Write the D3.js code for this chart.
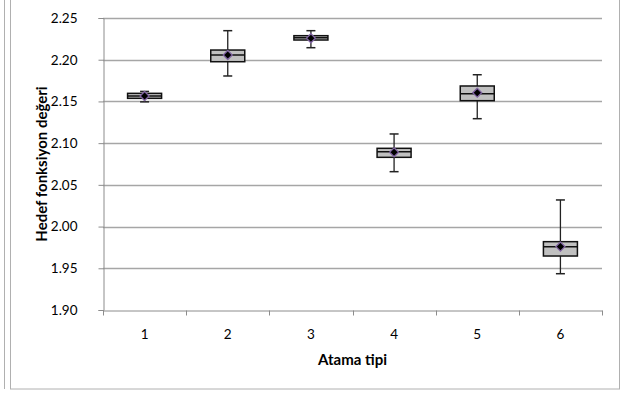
<!DOCTYPE html>
<html>
  <head>
    <meta charset="utf-8">
    <script src="https://unpkg.com/d3@7/dist/d3.min.js"></script>
    <style>
      body { margin: 0; background: #fff; }
      text { font-family: Lato, "Liberation Sans", sans-serif; fill: #000; }
    </style>
  </head>
  <body>
    <script>
      const categories = ['1', '2', '3', '4', '5', '6'];
      const whiskerMin = [2.1495, 2.1805, 2.2144, 2.0658, 2.1293, 1.9435];
      const q1 = [2.1537, 2.1976, 2.2236, 2.0830, 2.1509, 1.9647];
      const median = [2.1565, 2.2056, 2.2264, 2.0898, 2.1593, 1.9759];
      const q3 = [2.1597, 2.2116, 2.2288, 2.0938, 2.1685, 1.9819];
      const whiskerMax = [2.1620, 2.2348, 2.2348, 2.1110, 2.1820, 2.0319];
      const means = [2.1565, 2.2056, 2.2257, 2.0890, 2.1605, 1.9760];
      const yTicks = [1.90, 1.95, 2.00, 2.05, 2.10, 2.15, 2.20, 2.25];

      const width = 621;
      const height = 393;
      const margin = {top: 18, right: 19, bottom: 83, left: 103};

      const data = categories.map((c, i) => ({
        cat: c, lo: whiskerMin[i], q1: q1[i], med: median[i], q3: q3[i], hi: whiskerMax[i], mean: means[i]
      }));

      const svg = d3.select('body')
        .append('svg')
        .attr('width', width)
        .attr('height', height);

      // outer frames
      svg.append('line')
        .attr('x1', 4.5).attr('x2', 4.5).attr('y1', 0).attr('y2', 389)
        .style('stroke', '#b0b0b0');
      svg.append('rect')
        .attr('x', 10.5).attr('y', -1).attr('width', 609).attr('height', 390)
        .style('fill', 'none').style('stroke', '#b0b0b0');

      const x = d3.scaleBand()
        .domain(categories)
        .range([margin.left, width - margin.right]);

      const y = d3.scaleLinear()
        .domain([1.90, 2.25])
        .range([height - margin.bottom, margin.top]);

      // gridlines
      svg.append('g')
        .selectAll('line')
        .data(yTicks.slice(1))
        .enter()
        .append('line')
        .attr('x1', margin.left)
        .attr('x2', width - margin.right)
        .attr('y1', d => Math.round(y(d)) + 0.5)
        .attr('y2', d => Math.round(y(d)) + 0.5)
        .style('stroke', '#a6a6a6')
        .style('stroke-width', '1.3px');

      // y axis
      const yAxis = svg.append('g')
        .attr('transform', `translate(${margin.left + 0.5},0)`)
        .call(d3.axisLeft(y).tickValues(yTicks).tickFormat(d3.format('.2f')).tickSize(5).tickPadding(21));
      yAxis.select('.domain').style('stroke', '#8c8c8c');
      yAxis.selectAll('.tick line').style('stroke', '#8c8c8c');
      yAxis.selectAll('.tick text').style('font-size', '13.5px').style('fill', '#000');

      // x axis
      const xAxis = svg.append('g')
        .attr('transform', `translate(0,${Math.round(y(1.90)) + 0.5})`)
        .call(d3.axisBottom(x).tickSize(0).tickPadding(19));
      xAxis.select('.domain').style('stroke', '#8c8c8c');
      xAxis.selectAll('.tick text').style('font-size', '13.5px').style('fill', '#000');
      xAxis.selectAll('.sep')
        .data(d3.range(categories.length + 1))
        .enter()
        .append('line')
        .attr('x1', i => Math.round(margin.left + i * x.step()) + 0.5)
        .attr('x2', i => Math.round(margin.left + i * x.step()) + 0.5)
        .attr('y1', 0)
        .attr('y2', 5)
        .style('stroke', '#8c8c8c');

      // boxes
      const bw = 34;
      const g = svg.append('g');
      const cx = d => x(d.cat) + x.bandwidth() / 2;

      g.selectAll('.whisker')
        .data(data)
        .enter()
        .append('line')
        .attr('x1', cx).attr('x2', cx)
        .attr('y1', d => y(d.hi)).attr('y2', d => y(d.lo))
        .style('stroke', '#222').style('stroke-width', '1.3px');

      ['hi', 'lo'].forEach(k => {
        g.selectAll('.cap-' + k)
          .data(data)
          .enter()
          .append('line')
          .attr('x1', d => cx(d) - 4.5).attr('x2', d => cx(d) + 4.5)
          .attr('y1', d => y(d[k])).attr('y2', d => y(d[k]))
          .style('stroke', '#222').style('stroke-width', '1.5px');
      });

      g.selectAll('.box')
        .data(data)
        .enter()
        .append('rect')
        .attr('x', d => cx(d) - bw / 2)
        .attr('y', d => y(d.q3))
        .attr('width', bw)
        .attr('height', d => y(d.q1) - y(d.q3))
        .style('fill', '#c0c0c0')
        .style('stroke', '#111')
        .style('stroke-width', '1.5px');

      g.selectAll('.med')
        .data(data)
        .enter()
        .append('line')
        .attr('x1', d => cx(d) - bw / 2).attr('x2', d => cx(d) + bw / 2)
        .attr('y1', d => y(d.med)).attr('y2', d => y(d.med))
        .style('stroke', '#111').style('stroke-width', '1.5px');

      g.selectAll('.mean')
        .data(data)
        .enter()
        .append('path')
        .attr('transform', d => `translate(${cx(d)},${y(d.mean)})`)
        .attr('d', 'M0,-4.5L4.5,0L0,4.5L-4.5,0Z')
        .style('fill', '#000')
        .style('stroke', '#8064a2')
        .style('stroke-width', '1.3px');

      // axis titles
      svg.append('text')
        .attr('x', x('3') + x.step())
        .attr('y', 365)
        .attr('text-anchor', 'middle')
        .style('font-size', '15px')
        .style('font-weight', 'bold')
        .text('Atama tipi');

      svg.append('text')
        .attr('transform', `translate(47,${(y(1.90) + y(2.25)) / 2}) rotate(-90)`)
        .attr('text-anchor', 'middle')
        .style('font-size', '15px')
        .style('font-weight', 'bold')
        .text('Hedef fonksiyon değeri');
    </script>
  </body>
</html>
